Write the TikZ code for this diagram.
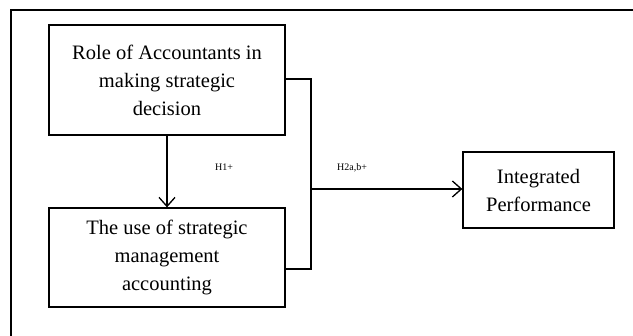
\documentclass[tikz,border=0pt]{standalone}
\usepackage{fontspec}
\setmainfont{Liberation Serif}
\usetikzlibrary{arrows.meta}
\begin{document}
\begin{tikzpicture}[x=1pt,y=-1pt,
  box/.style={draw,line width=1.3pt,minimum width=236pt,align=center,inner sep=0pt,
     font=\fontsize{20.5}{28}\selectfont},
  conn/.style={line width=1.3pt},
  arr/.style={conn,-{Straight Barb[length=9pt,width=16pt,line width=1.3pt]}},
  lbl/.style={font=\fontsize{10}{11}\selectfont,inner sep=0pt}]
\useasboundingbox (0,0) rectangle (633,336);
\draw[line width=1.2pt] (11,336) -- (11,10) -- (640,10);
\node[box,minimum height=110pt] (a) at (167,80) {Role of Accountants in\\making strategic\\decision};
\node[box,minimum height=99pt] (b) at (167,257.5) {The use of strategic\\management\\accounting};
\node[box,minimum width=151pt,minimum height=76pt] (c) at (538.5,190) {Integrated\\Performance};
\coordinate (j) at (311,189);
\draw[arr] (a.south) -- (b.north);
\draw[conn] (a.east |- 0,79) -| (311,269) -- (b.east |- 0,269);
\draw[arr] (j) -- (c.west |- j);
\node[lbl,anchor=west] (h1) at (215,167) {H1+};
\node[lbl,anchor=west] (h2) at (337,168) {H2a,b+};
\end{tikzpicture}
\end{document}
